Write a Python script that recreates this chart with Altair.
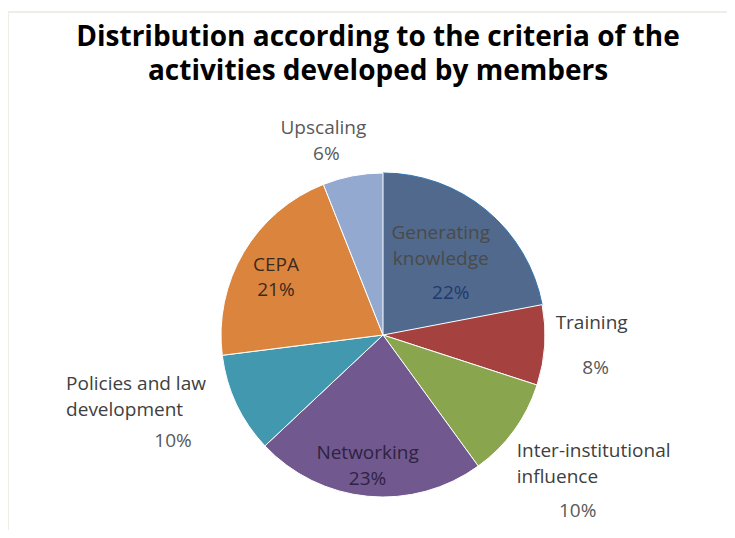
import altair as alt
import pandas as pd
import numpy as np

# ---------------- data ----------------
categories = ["Generating knowledge", "Training", "Inter-institutional influence",
              "Networking", "Policies and law development", "CEPA", "Upscaling"]
values = [22, 8, 10, 23, 10, 21, 6]
name_labels = ["Generating\nknowledge", "Training", "Inter-institutional\ninfluence",
               "Networking", "Policies and law\ndevelopment", "CEPA", "Upscaling"]
pct_labels = ["22%", "8%", "10%", "23%", "10%", "21%", "6%"]
colors = ["#50698C", "#A5413F", "#89A54E", "#71588F", "#4198AF", "#DB843D", "#93A9CF"]
title_lines = ["Distribution according to the criteria of the",
               "activities developed by members"]

vals = np.array(values, dtype=float)
cum = np.cumsum(vals)
mid = cum - vals / 2.0
df = pd.DataFrame({
    "cat": categories, "value": values, "idx": list(range(len(values))),
    "mid": mid, "name": name_labels, "pct": pct_labels,
})

W, H = 719, 522
CX, CY = 375, 327
R = 162
FONT = "Open Sans"
FS = 19

theta_scale = alt.Scale(domain=[0, 100], range=[0, 2 * np.pi])

base = alt.Chart(df)

arcs = base.mark_arc(outerRadius=R, strokeWidth=1).encode(
    theta=alt.Theta("value:Q", stack=True, scale=theta_scale),
    order=alt.Order("idx:Q"),
    color=alt.Color("cat:N", scale=alt.Scale(domain=categories, range=colors), legend=None),
    stroke=alt.condition(alt.datum.cat == "Generating knowledge",
                         alt.value("#2E75B6"), alt.value("#ffffff")),
    x=alt.value(CX), y=alt.value(CY),
)

# label styling per slice: (radius, dx, dy, align, color) for name and pct
label_style = {
    "Generating knowledge": [(100, -6, -25, "center", "#4a4a4a"),
                             (100, 4, 35, "center", "#1F3A6E")],
    "Training": [(190, 19, -24, "center", "#404040"),
                 (190, 23, 21, "center", "#595959")],
    "Inter-institutional influence": [(190, -20, 4, "left", "#404040"),
                                      (190, 41, 64, "center", "#595959")],
    "Networking": [(100, -6, 18, "center", "#2E2340"),
                   (100, -6, 44, "center", "#2E2340")],
    "Policies and law development": [(190, -145, -32, "left", "#404040"),
                                     (190, -38, 25, "center", "#595959")],
    "CEPA": [(100, -21, -19, "center", "#3B2A1E"),
             (100, -21, 6, "center", "#3B2A1E")],
    "Upscaling": [(190, -24, -20, "center", "#595959"),
                  (190, -21, 6, "center", "#595959")],
}

layers = [arcs]
for cat in categories:
    for field, (r, dx, dy, align, col) in zip(["name", "pct"], label_style[cat]):
        layers.append(
            base.transform_filter(alt.datum.cat == cat).mark_text(
                font=FONT, fontSize=FS, align=align, baseline="middle",
                dx=dx, dy=dy, color=col, lineBreak="\n", lineHeight=26,
            ).encode(
                theta=alt.Theta("mid:Q", stack=False, scale=theta_scale),
                radius=alt.value(r),
                text=alt.Text(f"{field}:N"),
                x=alt.value(CX), y=alt.value(CY),
            )
        )

# title as one two-line text
title_text = layers.append(
    alt.Chart(pd.DataFrame({"t": ["\n".join(title_lines)]})).mark_text(
        font="Open Sans", fontSize=28, fontWeight="bold", color="#000000",
        align="center", baseline="alphabetic", lineBreak="\n", lineHeight=34,
    ).encode(text="t:N", x=alt.value(370), y=alt.value(38))
)

# faint frame
frame_top = alt.Chart(pd.DataFrame({"a": [0]})).mark_rule(color="#EFEDE6", strokeWidth=2).encode(
    x=alt.value(0), x2=alt.value(W), y=alt.value(4))
frame_left = alt.Chart(pd.DataFrame({"a": [0]})).mark_rule(color="#EFEDE6", strokeWidth=2).encode(
    x=alt.value(0), y=alt.value(4), y2=alt.value(H))
layers = [frame_top, frame_left] + layers

chart = alt.layer(*layers).properties(
    width=W, height=H, autosize=alt.AutoSizeParams(type="none"), padding=0,
    background="#ffffff",
).configure_view(stroke=None)

chart.save("out.html", embed_options={"renderer": "svg", "actions": False})
